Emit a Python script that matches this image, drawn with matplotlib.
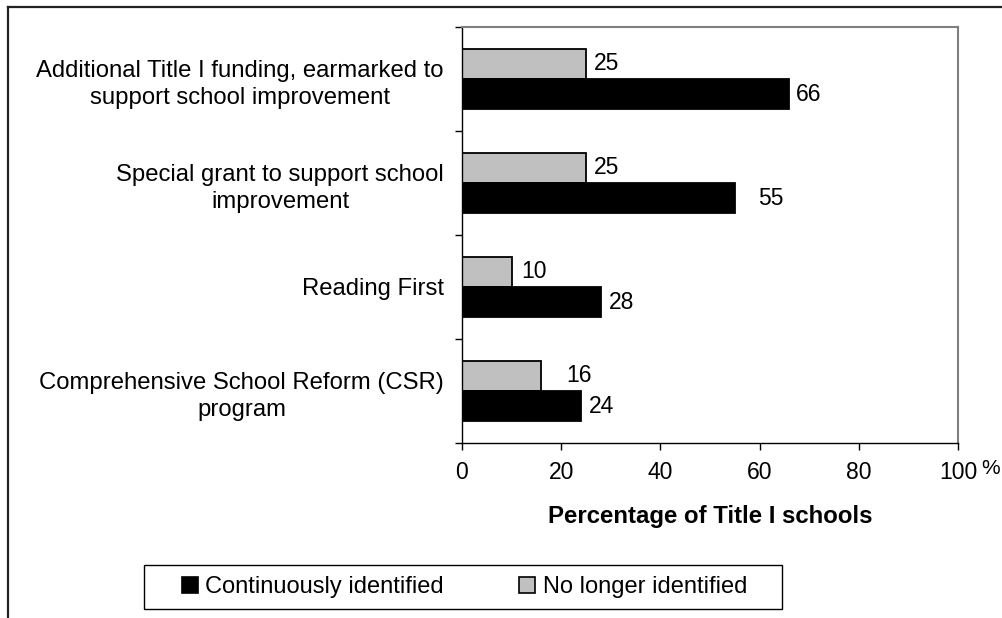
import matplotlib
matplotlib.use("Agg")
import matplotlib.pyplot as plt
from matplotlib.patches import Patch, Rectangle
from matplotlib.lines import Line2D
import numpy as np

plt.rcParams['font.family'] = ['Liberation Sans', 'DejaVu Sans']

categories = [
    "Additional Title I funding, earmarked to\nsupport school improvement",
    "Special grant to support school\nimprovement",
    "Reading First",
    "Comprehensive School Reform (CSR)\nprogram",
]
continuously = [66, 55, 28, 24]
no_longer = [25, 25, 10, 16]
x_ticks = [0, 20, 40, 60, 80, 100]
series_names = ["Continuously identified", "No longer identified"]

# label offsets (points) to the right of bar ends
off_cont = [5, 17, 6, 6]
off_nolonger = [6, 6, 7, 18]

W, H = 1003, 618
fig = plt.figure(figsize=(W / 100, H / 100), dpi=100)
ax = fig.add_axes([462 / W, 1 - 443 / H, (958 - 462) / W, (443 - 27) / H])

fs_tick = 16.5
fs_cat = 17.2
y = np.arange(len(categories))
bh = 0.29
bars_nl = ax.barh(y - bh / 2, no_longer, height=bh, color="#C0C0C0", edgecolor="black", linewidth=1.3)
bars_c = ax.barh(y + bh / 2, continuously, height=bh, color="black", edgecolor="black", linewidth=1.3)

for b, v, o in zip(bars_nl, no_longer, off_nolonger):
    ax.annotate(str(v), (b.get_width(), b.get_y() + b.get_height() / 2), xytext=(o, 0),
                textcoords="offset points", ha="left", va="center", fontsize=fs_tick)
for b, v, o in zip(bars_c, continuously, off_cont):
    ax.annotate(str(v), (b.get_width(), b.get_y() + b.get_height() / 2), xytext=(o, 0),
                textcoords="offset points", ha="left", va="center", fontsize=fs_tick)

ax.set_xlim(0, 100)
ax.set_ylim(len(categories) - 0.5, -0.5)
ax.set_xticks(x_ticks)
ax.set_xticklabels([str(t) for t in x_ticks], fontsize=fs_tick)
ax.tick_params(axis="x", direction="out", length=5, width=1, pad=8)

ax.set_yticks(y)
ax.set_yticklabels(categories, fontsize=fs_cat, multialignment="center", linespacing=1.3)
ax.tick_params(axis="y", which="major", length=0, pad=13)
ax.set_yticks(np.arange(-0.5, len(categories) + 0.5, 1), minor=True)
ax.tick_params(axis="y", which="minor", direction="out", length=5, width=1)

for s in ["left", "bottom"]:
    ax.spines[s].set_color("black")
    ax.spines[s].set_linewidth(1)
for s in ["top", "right"]:
    ax.spines[s].set_color("#808080")
    ax.spines[s].set_linewidth(1.5)

ax.set_xlabel("Percentage of Title I schools", fontsize=17.3, fontweight="bold", labelpad=15)

# percent sign after last tick
ax.annotate("%", (100, 0), xycoords=("data", "axes fraction"), xytext=(17, -18),
            textcoords="offset points", ha="left", va="center", fontsize=15)

# outer frame (cut off at right/bottom)
fig.add_artist(Line2D([8 / W, 1.0], [1 - 7 / H, 1 - 7 / H], color="#222222", lw=1.6, transform=fig.transFigure))
fig.add_artist(Line2D([8 / W, 8 / W], [1 - 7 / H, 0.0], color="#222222", lw=1.6, transform=fig.transFigure))

# legend box
fig.add_artist(Rectangle((144 / W, 1 - 609 / H), (782 - 144) / W, (609 - 565) / H,
                         transform=fig.transFigure, fill=False, edgecolor="black", lw=1))
handles = [Patch(facecolor="black", edgecolor="black", lw=1.2),
           Patch(facecolor="#C0C0C0", edgecolor="black", lw=1.2)]
fig.legend(handles, series_names, loc="center", bbox_to_anchor=((184 + 745) / 2 / W, 1 - 587 / H),
           ncol=2, frameon=False, fontsize=17, handlelength=0.68, handleheight=0.68,
           handletextpad=0.3, columnspacing=3.2, borderpad=0)

fig.savefig("out.png", dpi=100)
